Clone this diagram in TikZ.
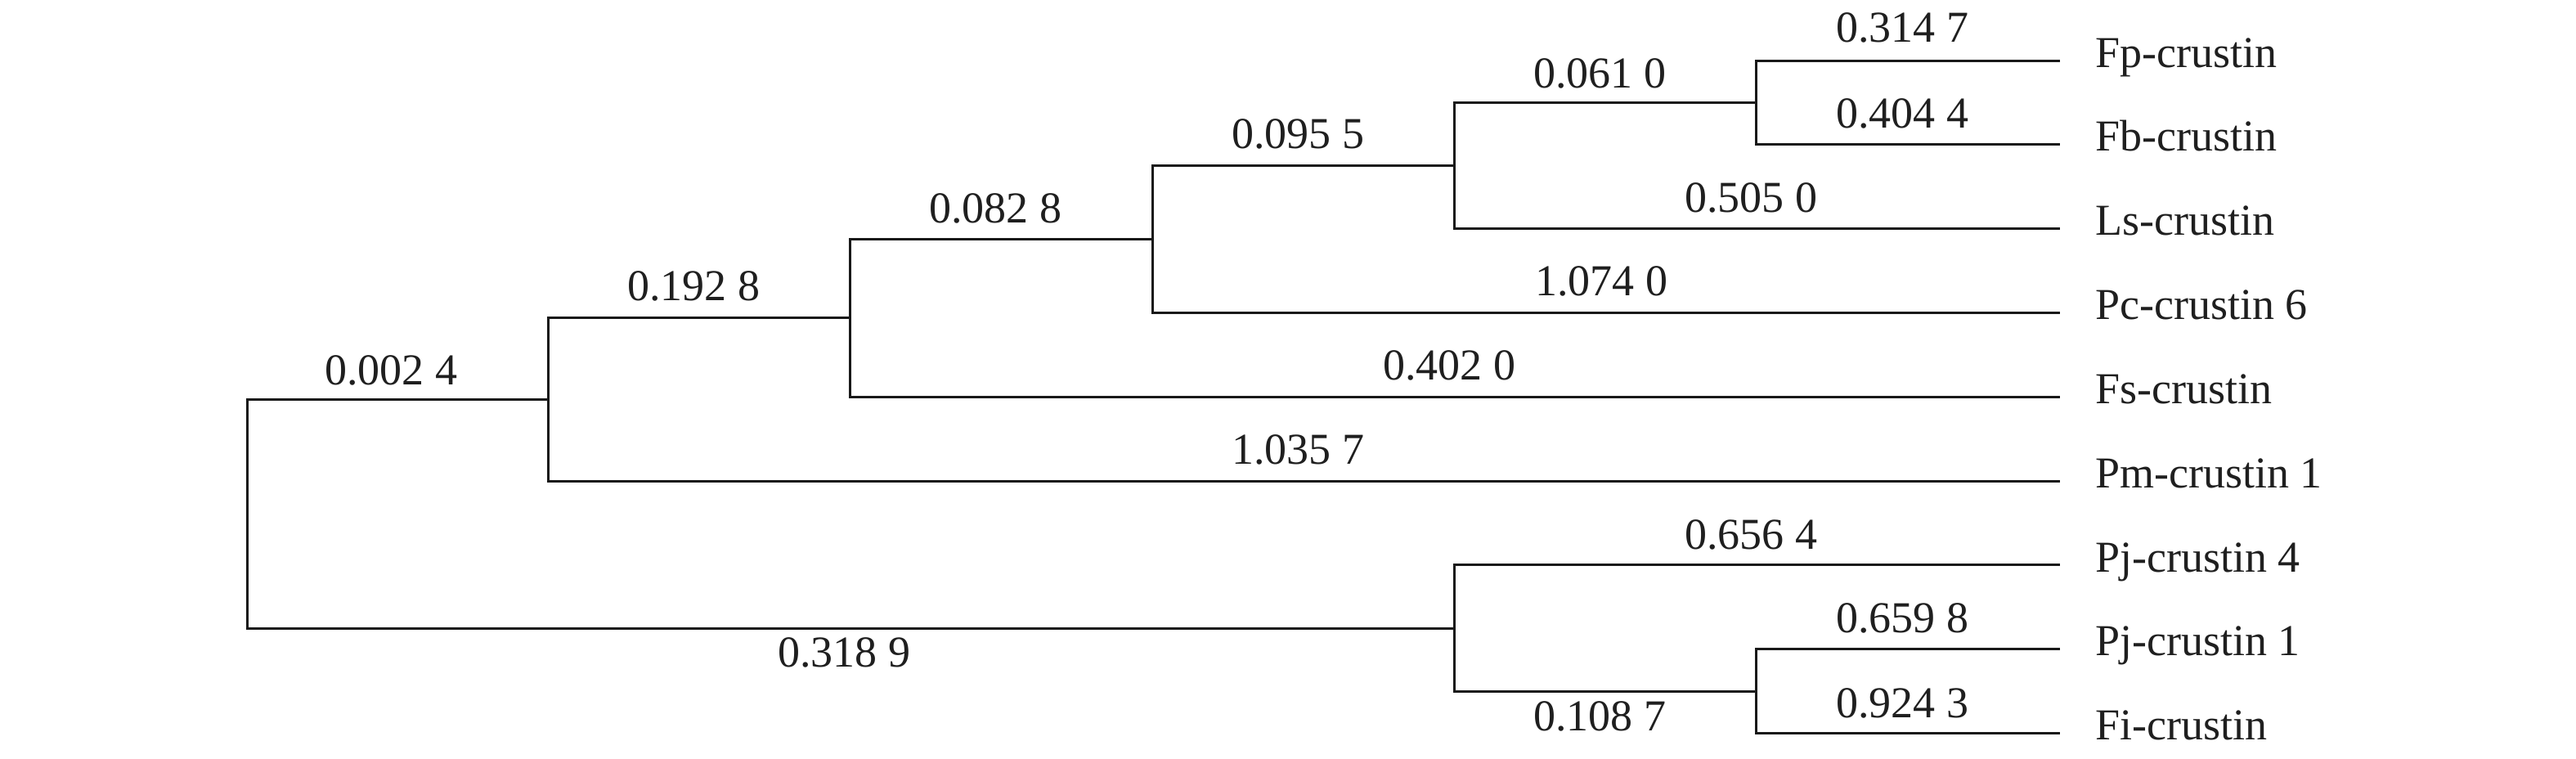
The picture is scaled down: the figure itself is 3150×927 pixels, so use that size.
\documentclass[tikz,border=0pt]{standalone}
\usepackage{fontspec}
\setmainfont{Liberation Serif}
\begin{document}
\begin{tikzpicture}[x=1pt,y=-1pt,
  branch/.style={draw=black!90, line width=3pt, line join=miter},
  blen/.style={font=\fontsize{54}{60}\selectfont, text=black!88, inner sep=0pt, anchor=base},
  leafname/.style={font=\fontsize{54}{60}\selectfont, text=black!88, inner sep=0pt, anchor=base west}]
\useasboundingbox (0,0) rectangle (3150,927);
% internal nodes
\coordinate (r)  at (302,628);
\coordinate (n1) at (670,488);
\coordinate (n2) at (1039,388);
\coordinate (n3) at (1409,292);
\coordinate (n4) at (1778,202);
\coordinate (n5) at (2147,125);
\coordinate (n6) at (1778,768);
\coordinate (n7) at (2147,845);
% leaf ends
\coordinate (eFp) at (2519,74);
\coordinate (eFb) at (2519,176);
\coordinate (eLs) at (2519,279);
\coordinate (ePc) at (2519,382);
\coordinate (eFs) at (2519,485);
\coordinate (ePm) at (2519,588);
\coordinate (ePj4) at (2519,690);
\coordinate (ePj1) at (2519,793);
\coordinate (eFi) at (2519,896);
% branches
\draw[branch] (n1) -| (r) |- (n6);
\draw[branch] (n2) -| (n1) |- (ePm);
\draw[branch] (n3) -| (n2) |- (eFs);
\draw[branch] (n4) -| (n3) |- (ePc);
\draw[branch] (n5) -| (n4) |- (eLs);
\draw[branch] (eFp) -| (n5) |- (eFb);
\draw[branch] (ePj4) -| (n6) |- (n7);
\draw[branch] (ePj1) -| (n7) |- (eFi);
% leaf names
\node[leafname] (tFp)  at (2562,82)  {Fp-crustin};
\node[leafname] (tFb)  at (2562,184) {Fb-crustin};
\node[leafname] (tLs)  at (2562,287) {Ls-crustin};
\node[leafname] (tPc)  at (2562,390) {Pc-crustin 6};
\node[leafname] (tFs)  at (2562,493) {Fs-crustin};
\node[leafname] (tPm)  at (2562,596) {Pm-crustin 1};
\node[leafname] (tPj4) at (2562,699) {Pj-crustin 4};
\node[leafname] (tPj1) at (2562,801) {Pj-crustin 1};
\node[leafname] (tFi)  at (2562,904) {Fi-crustin};
% branch lengths
\node[blen] (b1)  at (2326,51)  {0.314 7};
\node[blen] (b2)  at (2326,156) {0.404 4};
\node[blen] (b3)  at (1956,107) {0.061 0};
\node[blen] (b4)  at (2141,259) {0.505 0};
\node[blen] (b5)  at (1587,181) {0.095 5};
\node[blen] (b6)  at (1958,361) {1.074 0};
\node[blen] (b7)  at (1217,272) {0.082 8};
\node[blen] (b8)  at (1772,464) {0.402 0};
\node[blen] (b9)  at (848,367)  {0.192 8};
\node[blen] (b10) at (1587,567) {1.035 7};
\node[blen] (b11) at (478,470)  {0.002 4};
\node[blen] (b12) at (2141,671) {0.656 4};
\node[blen] (b13) at (2326,773) {0.659 8};
\node[blen] (b14) at (2326,877) {0.924 3};
\node[blen] (b15) at (1956,893) {0.108 7};
\node[blen] (b16) at (1032,815) {0.318 9};
\end{tikzpicture}
\end{document}
